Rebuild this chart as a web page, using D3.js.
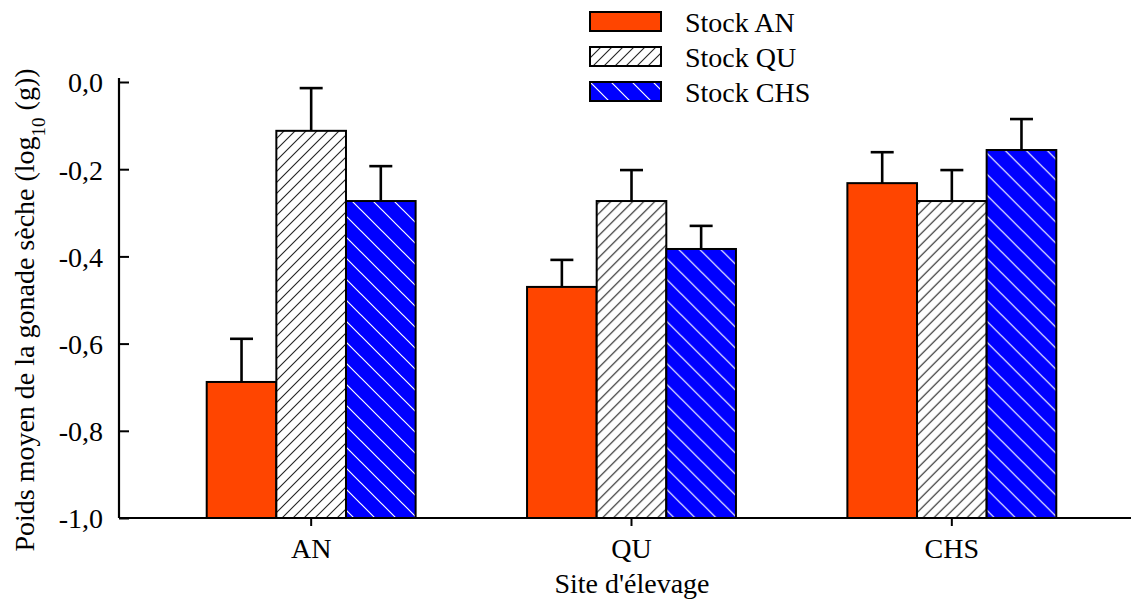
<!DOCTYPE html>
<html>
<head>
<meta charset="utf-8">
<script src="https://cdn.jsdelivr.net/npm/d3@7"></script>
<style>
  body { margin: 0; background: #fff; }
  svg text { font-family: "Liberation Serif", "DejaVu Serif", serif !important; fill: #000; }
</style>
</head>
<body>
<div id="chart"></div>
<script>
// sites and stocks
var sites = ["AN", "QU", "CHS"];
var stocks = ["Stock AN", "Stock QU", "Stock CHS"];
// mean values (log10 g), one array per stock, in site order
var stockAN = [-0.688, -0.470, -0.232];
var stockQU = [-0.112, -0.273, -0.273];
var stockCHS = [-0.273, -0.383, -0.156];
// top of the error bars
var errAN = [-0.589, -0.408, -0.161];
var errQU = [-0.014, -0.202, -0.202];
var errCHS = [-0.193, -0.330, -0.085];
var yTicks = [0, -0.2, -0.4, -0.6, -0.8, -1.0];

var width = 1138, height = 602;
var svg = d3.select("#chart").append("svg")
    .attr("width", width).attr("height", height)
    .attr("font-family", "Liberation Serif");

// hatch patterns
var defs = svg.append("defs");
var pq = defs.append("pattern").attr("id", "hatchQU")
    .attr("patternUnits", "userSpaceOnUse").attr("width", 11).attr("height", 11);
pq.append("rect").attr("width", 11).attr("height", 11).attr("fill", "#fff");
pq.append("path").attr("d", "M-1,1 L1,-1 M0,11 L11,0 M10,12 L12,10")
    .attr("stroke", "#222").attr("stroke-width", 1.1);
var pc = defs.append("pattern").attr("id", "hatchCHS")
    .attr("patternUnits", "userSpaceOnUse").attr("width", 21).attr("height", 21);
pc.append("rect").attr("width", 21).attr("height", 21).attr("fill", "#0000ff");
pc.append("path").attr("d", "M-1,20 L1,22 M0,0 L21,21 M20,-1 L22,1")
    .attr("stroke", "#fff").attr("stroke-width", 1.2);

var fills = ["#ff4500", "url(#hatchQU)", "url(#hatchCHS)"];

var data = sites.map(function(s, i) {
  return {
    site: s,
    vals: [
      {stock: stocks[0], v: stockAN[i], e: errAN[i]},
      {stock: stocks[1], v: stockQU[i], e: errQU[i]},
      {stock: stocks[2], v: stockCHS[i], e: errCHS[i]}
    ]
  };
});

var y = d3.scaleLinear().domain([-1, 0]).range([518, 82]);
var x0 = d3.scaleBand().domain(sites).range([151, 1112]);
var x1 = d3.scaleBand().domain(stocks).range([0, x0.bandwidth()]).paddingOuter(0.8);

// bars
var groups = svg.selectAll("g.site").data(data).enter().append("g")
    .attr("class", "site")
    .attr("transform", d => `translate(${x0(d.site)},0)`);

// error bars
groups.selectAll("g.err").data(d => d.vals).enter().append("g")
    .attr("class", "err")
    .each(function(d) {
      var g = d3.select(this);
      var cx = x1(d.stock) + x1.bandwidth() / 2;
      g.append("line").attr("x1", cx).attr("x2", cx)
        .attr("y1", y(d.v)).attr("y2", y(d.e))
        .attr("stroke", "#000").attr("stroke-width", 2.6);
      g.append("line").attr("x1", cx - 11.5).attr("x2", cx + 11.5)
        .attr("y1", y(d.e)).attr("y2", y(d.e))
        .attr("stroke", "#000").attr("stroke-width", 2.6);
    });

groups.selectAll("rect").data(d => d.vals).enter().append("rect")
    .attr("x", d => x1(d.stock))
    .attr("width", x1.bandwidth())
    .attr("y", d => y(d.v))
    .attr("height", d => y(-1) - y(d.v))
    .attr("fill", (d, i) => fills[i])
    .attr("stroke", "#000").attr("stroke-width", 2);

// y axis
var fmt = d => d3.format(".1f")(d).replace("−", "-").replace(".", ",");
var yAxis = svg.append("g").attr("transform", "translate(119,0)")
    .call(d3.axisRight(y).tickValues(yTicks).tickSize(10).tickFormat(""));
yAxis.select(".domain").attr("d", "M0,78V518").attr("stroke-width", 2.2);
yAxis.selectAll(".tick line").attr("stroke-width", 2);
yAxis.selectAll(".tick").append("text")
    .attr("x", -16).attr("dy", "0.35em")
    .attr("text-anchor", "end")
    .style("font-size", "28px")
    .text(d => fmt(d));

// x axis
var xAxis = svg.append("g").attr("transform", "translate(0,518)")
    .call(d3.axisBottom(x0).tickSize(8).tickPadding(6));
xAxis.select(".domain").attr("d", "M119,0H1131").attr("stroke-width", 2.2);
xAxis.selectAll(".tick line").attr("stroke-width", 2);
xAxis.selectAll(".tick text")
    .style("font-size", "28px").attr("fill", "#000")
    .attr("y", 40).attr("dy", null);

// axis titles
svg.append("text").attr("x", 632).attr("y", 593)
    .attr("text-anchor", "middle").style("font-size", "28px")
    .text("Site d'élevage");

var yt = svg.append("text")
    .attr("transform", "translate(34,310) rotate(-90)")
    .attr("text-anchor", "middle").style("font-size", "28px");
yt.append("tspan").text("Poids moyen de la gonade sèche (log");
yt.append("tspan").attr("baseline-shift", "sub").style("font-size", "19px").text("10");
yt.append("tspan").text(" (g))");

// legend
var legend = svg.append("g").attr("transform", "translate(590,12)");
var li = legend.selectAll("g").data(stocks).enter().append("g")
    .attr("transform", (d, i) => `translate(0,${i * 35})`);
li.append("rect").attr("width", 71).attr("height", 19)
    .attr("fill", (d, i) => fills[i])
    .attr("stroke", "#000").attr("stroke-width", 2);
li.append("text").attr("x", 95).attr("y", 20)
    .style("font-size", "28px").text(d => d);
</script>
</body>
</html>
